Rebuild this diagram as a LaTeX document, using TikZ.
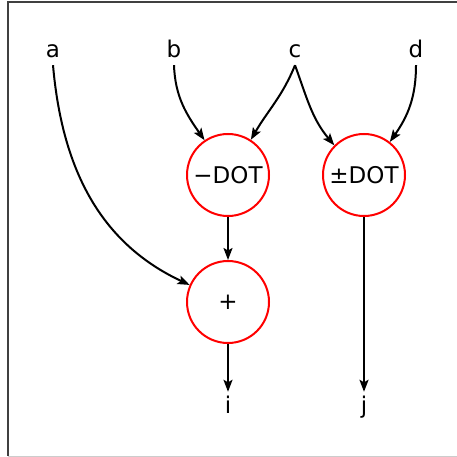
\documentclass[tikz,border=0pt]{standalone}
\usepackage{fontspec}
\setmainfont{DejaVu Sans}
\usetikzlibrary{arrows.meta}
\begin{document}
\begin{tikzpicture}[x=1pt,y=-1pt,
  lbl/.style={inner sep=0pt,font=\fontsize{23}{24}\selectfont,text depth=7pt,text height=15pt,anchor=base},
  outl/.style={inner sep=0pt,font=\fontsize{23}{24}\selectfont,text depth=6pt,text height=21pt,anchor=base},
  op/.style={circle,draw=red,line width=2pt,minimum size=82pt,inner sep=0pt,font=\fontsize{23}{24}\selectfont},
  edge/.style={line width=2pt,-{Stealth[length=12pt,width=9pt,inset=2.5pt]}}]
\useasboundingbox (0,0) rectangle (456,457);
\draw[line width=1.2pt,black!75] (8,456) -- (8,2) -- (460,2);
\draw[line width=1pt,black!20] (8,456) -- (460,456);
\node[lbl] (a) at (53,58) {a};
\node[lbl] (b) at (174,58) {b};
\node[lbl] (c) at (295,58) {c};
\node[lbl] (d) at (416,58) {d};
\node[op] (m) at (228,175) {−DOT};
\node[op] (pm) at (364,175) {±DOT};
\node[op] (p) at (228,302) {+};
\node[outl] (i) at (228,413) {i};
\node[outl] (j) at (364,413) {j};
\draw[edge] (a.south) to[out=-85,in=155] (p.156);
\draw[edge] (b.south) to[out=-88,in=125] (m.124);
\draw[edge] (c.south) to[out=-112,in=60] (m.57);
\draw[edge] (c.south) to[out=-70,in=130] (pm.135);
\draw[edge] (d.south) to[out=-90,in=55] (pm.52);
\draw[edge] (m) -- (p);
\draw[edge] (p) -- (i);
\draw[edge] (pm) -- (j);
\end{tikzpicture}
\end{document}
